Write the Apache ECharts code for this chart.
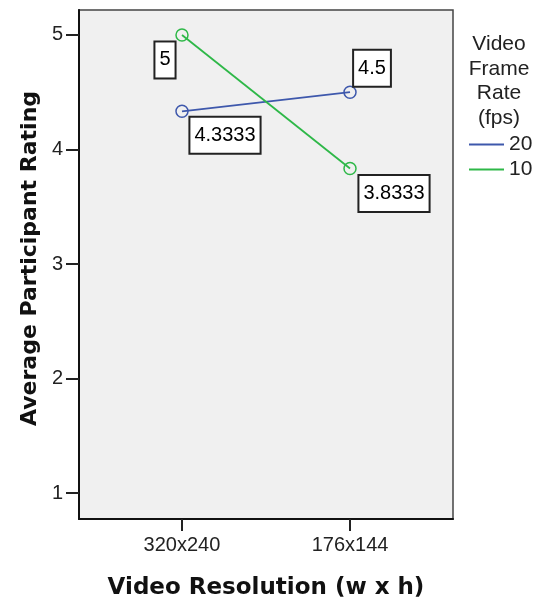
<!DOCTYPE html>
<html>
<head>
<meta charset="utf-8">
<style>html,body{margin:0;padding:0;background:#fff;}#chart{width:536px;height:607px;}</style>
<script src="https://cdn.jsdelivr.net/npm/echarts@6/dist/echarts.min.js"></script>
</head>
<body>
<div id="chart"></div>
<script>
var categories = ['320x240', '176x144'];
var seriesNames = ['20', '10'];
var fps20 = [4.3333, 4.5];
var fps10 = [5, 3.8333];
var yTicks = [1, 2, 3, 4, 5];
var legendTitle = 'Video\nFrame\nRate\n(fps)';
var xTitle = 'Video Resolution (w x h)';
var yTitle = 'Average Participant Rating';

var colors = ['#3e58ac', '#2eb848'];
// label placement (offsets from point, pixels)
var labelOffsets20 = [[43, 24], [22, -24]];
var labelOffsets10 = [[-17, 25], [44, 25]];

function buildData(vals, offsets) {
  return vals.map(function (v, i) {
    return {
      value: [i, v],
      label: { offset: offsets[i] }
    };
  });
}

var labelStyle = {
  show: true,
  position: 'inside',
  formatter: function (p) { return String(p.value[1]); },
  fontFamily: 'Liberation Sans, Arial, sans-serif',
  fontSize: 20,
  color: '#000',
  backgroundColor: '#fff',
  borderColor: '#222',
  borderWidth: 2,
  padding: [8, 4, 7, 4]
};

var font = 'Liberation Sans, Arial, sans-serif';

var chart = echarts.init(document.getElementById('chart'), null, { renderer: 'canvas' });
chart.setOption({
  animation: false,
  color: colors,
  title: {
    text: legendTitle,
    left: 499,
    top: 32,
    padding: 0,
    textAlign: 'center',
    textStyle: {
      fontFamily: font,
      fontWeight: 'normal',
      fontSize: 21,
      lineHeight: 24.5,
      color: '#222'
    }
  },
  legend: {
    orient: 'vertical',
    left: 469,
    top: 132,
    padding: 0,
    icon: 'rect',
    itemWidth: 35,
    itemHeight: 2,
    itemGap: 0,
    itemTextGap: 3,
    data: seriesNames.map(function (n, i) { return { name: n, itemStyle: { color: colors[i], borderWidth: 0 } }; }),
    textStyle: {
      fontFamily: font,
      fontSize: 21,
      lineHeight: 25,
      color: '#222'
    }
  },
  grid: {
    left: 79, right: 83, top: 10, bottom: 88,
    show: true,
    backgroundColor: '#f0f0f0',
    borderColor: '#444',
    borderWidth: 1.5
  },
  xAxis: {
    type: 'value',
    min: -0.613,
    max: 1.613,
    splitLine: { show: false },
    axisLine: { show: true, onZero: false, lineStyle: { color: '#111', width: 2 } },
    axisTick: { show: true, customValues: [0, 1], length: 12, lineStyle: { color: '#222', width: 2 } },
    axisLabel: {
      customValues: [0, 1],
      margin: 16,
      fontFamily: font,
      fontSize: 20,
      color: '#222',
      formatter: function (v) { return categories[Math.round(v)] || ''; }
    },
    name: xTitle,
    nameLocation: 'middle',
    nameGap: 58,
    nameTextStyle: {
      fontFamily: 'DejaVu Sans, Verdana, sans-serif',
      fontWeight: 'bold',
      fontSize: 23,
      color: '#111'
    }
  },
  yAxis: {
    type: 'value',
    min: 0.773,
    max: 5.218,
    splitLine: { show: false },
    axisLine: { show: true, onZero: false, lineStyle: { color: '#111', width: 2 } },
    axisTick: { show: true, customValues: yTicks, length: 13, lineStyle: { color: '#222', width: 2 } },
    axisLabel: {
      customValues: yTicks,
      margin: 16,
      fontFamily: font,
      fontSize: 20,
      color: '#222',
      formatter: function (v) { return String(Math.round(v)); }
    },
    name: yTitle,
    nameLocation: 'middle',
    nameGap: 36,
    nameTextStyle: {
      fontFamily: 'DejaVu Sans, Verdana, sans-serif',
      fontWeight: 'bold',
      fontSize: 22,
      color: '#111',
      padding: [0, 0, 0, 12]
    }
  },
  series: [
    {
      name: seriesNames[0],
      type: 'line',
      data: buildData(fps20, labelOffsets20),
      symbol: 'circle',
      symbolSize: 12,
      lineStyle: { width: 1.8, color: colors[0] },
      itemStyle: { color: 'rgba(0,0,0,0)', borderColor: colors[0], borderWidth: 1.5 },
      label: labelStyle
    },
    {
      name: seriesNames[1],
      type: 'line',
      data: buildData(fps10, labelOffsets10),
      symbol: 'circle',
      symbolSize: 12,
      lineStyle: { width: 1.8, color: colors[1] },
      itemStyle: { color: 'rgba(0,0,0,0)', borderColor: colors[1], borderWidth: 1.5 },
      label: labelStyle
    }
  ]
});
</script>
</body>
</html>
